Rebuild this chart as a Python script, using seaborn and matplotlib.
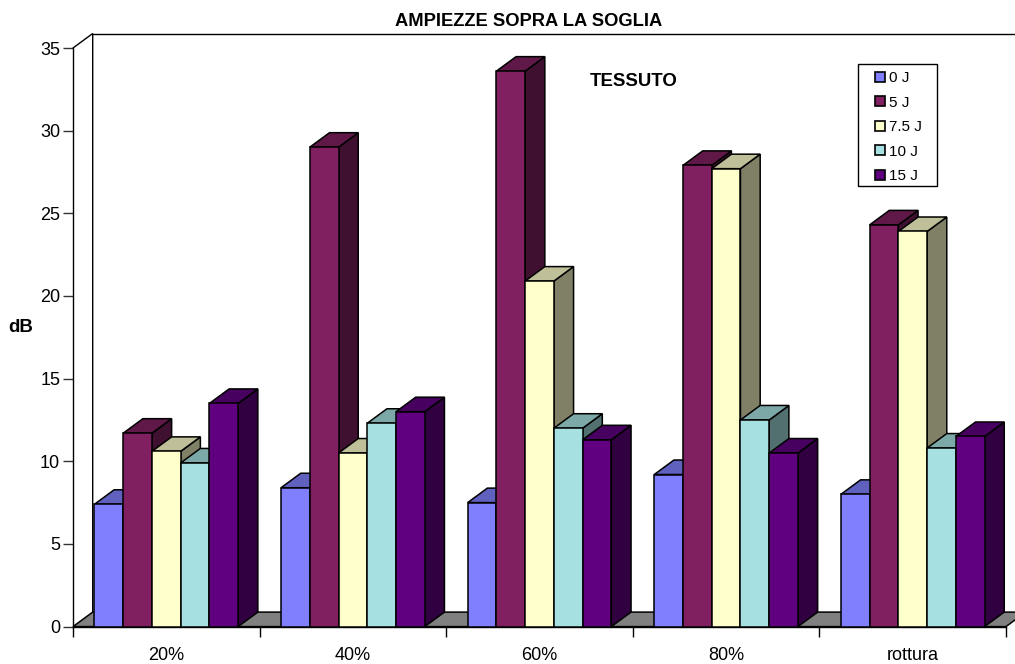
import numpy as np
import pandas as pd
import matplotlib
matplotlib.use("Agg")
import matplotlib.pyplot as plt
from matplotlib.colors import to_rgb
from matplotlib.patches import Polygon, Rectangle
import seaborn as sns

categories = ["20%", "40%", "60%", "80%", "rottura"]
series_names = ["0 J", "5 J", "7.5 J", "10 J", "15 J"]
values_0j = [7.4, 8.4, 7.5, 9.2, 8.0]
values_5j = [11.7, 29.0, 33.6, 27.9, 24.3]
values_75j = [10.6, 10.5, 20.9, 27.7, 23.9]
values_10j = [9.9, 12.3, 12.0, 12.5, 10.8]
values_15j = [13.5, 13.0, 11.3, 10.5, 11.5]
series_values = [values_0j, values_5j, values_75j, values_10j, values_15j]
colors = ["#8080FF", "#802060", "#FFFFCC", "#A6E0E0", "#600080"]

W, H = 1015, 664
sns.set_theme(style="ticks")
plt.rcParams["font.family"] = ["Liberation Sans", "DejaVu Sans"]

frame = pd.DataFrame({
    "categoria": np.tile(categories, len(series_names)),
    "serie": np.repeat(series_names, len(categories)),
    "dB": np.concatenate(series_values),
})

fig = plt.figure(figsize=(W / 100, H / 100), dpi=100, facecolor="white")
# Plot box in pixels: left 73, right 1006, top 48, bottom 626.6
ax = fig.add_axes([73 / W, 1 - 626.6 / H, 933 / W, 578.6 / H])
sns.barplot(data=frame, x="categoria", y="dB", hue="serie", order=categories,
            hue_order=series_names, palette=colors, saturation=1, width=0.77,
            gap=0, edgecolor="black", linewidth=1.1, legend=False, ax=ax)

ax.set_xlim(-0.5, 4.5)
ax.set_ylim(0, 35)
ax.set_xlabel("")
ax.set_ylabel("")

# Oblique projection offsets of the 3D look, in data units
DX, DY = 0.1056, 0.877
line = dict(edgecolor="black", linewidth=1.1, clip_on=False)

# Floor
ax.add_patch(Polygon([(-0.5, 0), (-0.5 + DX, DY), (4.5 + DX, DY), (4.5, 0)],
                     closed=True, facecolor="#808080", zorder=1, **line))

# Back wall outline
ax.plot([-0.5, -0.5 + DX, -0.5 + DX], [35, 35 + DY, DY], color="black", lw=1,
        clip_on=False, zorder=1, solid_joinstyle="miter")
ax.plot([-0.5 + DX, 4.65], [35 + DY, 35 + DY], color="black", lw=1,
        clip_on=False, zorder=1)

# Side and top faces of every bar, painted from left to right
for s, (container, base) in enumerate(zip(ax.containers, colors)):
    rgb = np.array(to_rgb(base))
    for c, bar in enumerate(container):
        x0, w, h = bar.get_x(), bar.get_width(), bar.get_height()
        z = 3 + c * 10 + s
        ax.add_patch(Polygon([(x0 + w, 0), (x0 + w + DX, DY), (x0 + w + DX, h + DY), (x0 + w, h)],
                             closed=True, facecolor=rgb * 0.5, zorder=z, **line))
        ax.add_patch(Polygon([(x0, h), (x0 + DX, h + DY), (x0 + w + DX, h + DY), (x0 + w, h)],
                             closed=True, facecolor=rgb * 0.75, zorder=z, **line))
        bar.set_zorder(z + 0.5)

# Axes, ticks and labels
sns.despine(ax=ax, top=True, right=True)
for side in ("left", "bottom"):
    ax.spines[side].set_linewidth(1)
    ax.spines[side].set_color("black")
    ax.spines[side].set_zorder(2)
ax.set_yticks(range(0, 36, 5))
ax.tick_params(axis="y", length=7.2, width=1, color="#333333", labelsize=13,
               labelcolor="black", pad=2)
ax.tick_params(axis="x", which="major", length=0, labelsize=13, labelcolor="black", pad=14.5)
ax.set_xticks(np.arange(-0.5, 5.0, 1.0), minor=True)
ax.tick_params(axis="x", which="minor", length=7.2, width=1, color="black")

fig.text(529 / W, 1 - 22 / H, "AMPIEZZE SOPRA LA SOGLIA", ha="center", va="center",
         fontsize=13.2, fontweight="bold", color="black")
fig.text(634 / W, 1 - 81.5 / H, "TESSUTO", ha="center", va="center",
         fontsize=13.4, fontweight="bold", color="black")
fig.text(21 / W, 1 - 328 / H, "dB", ha="center", va="center",
         fontsize=13.4, fontweight="bold", color="black")

# Legend box with square swatches
fig.add_artist(Rectangle((858 / W, 1 - 186 / H), 79 / W, 122 / H, transform=fig.transFigure,
                         facecolor="white", edgecolor="black", linewidth=1, zorder=50))
handles = [Rectangle((0, 0), 1, 1, facecolor=c, edgecolor="black", linewidth=1.2) for c in colors]
legend = fig.legend(handles, series_names, loc="upper left", frameon=False, fontsize=11,
                    labelcolor="black", bbox_to_anchor=(868 / W, 1 - 64 / H), borderaxespad=0,
                    borderpad=0.47, handlelength=0.65, handleheight=0.65, handletextpad=0.26,
                    labelspacing=0.685)
legend.set_zorder(51)

fig.savefig("out.png", dpi=100)
